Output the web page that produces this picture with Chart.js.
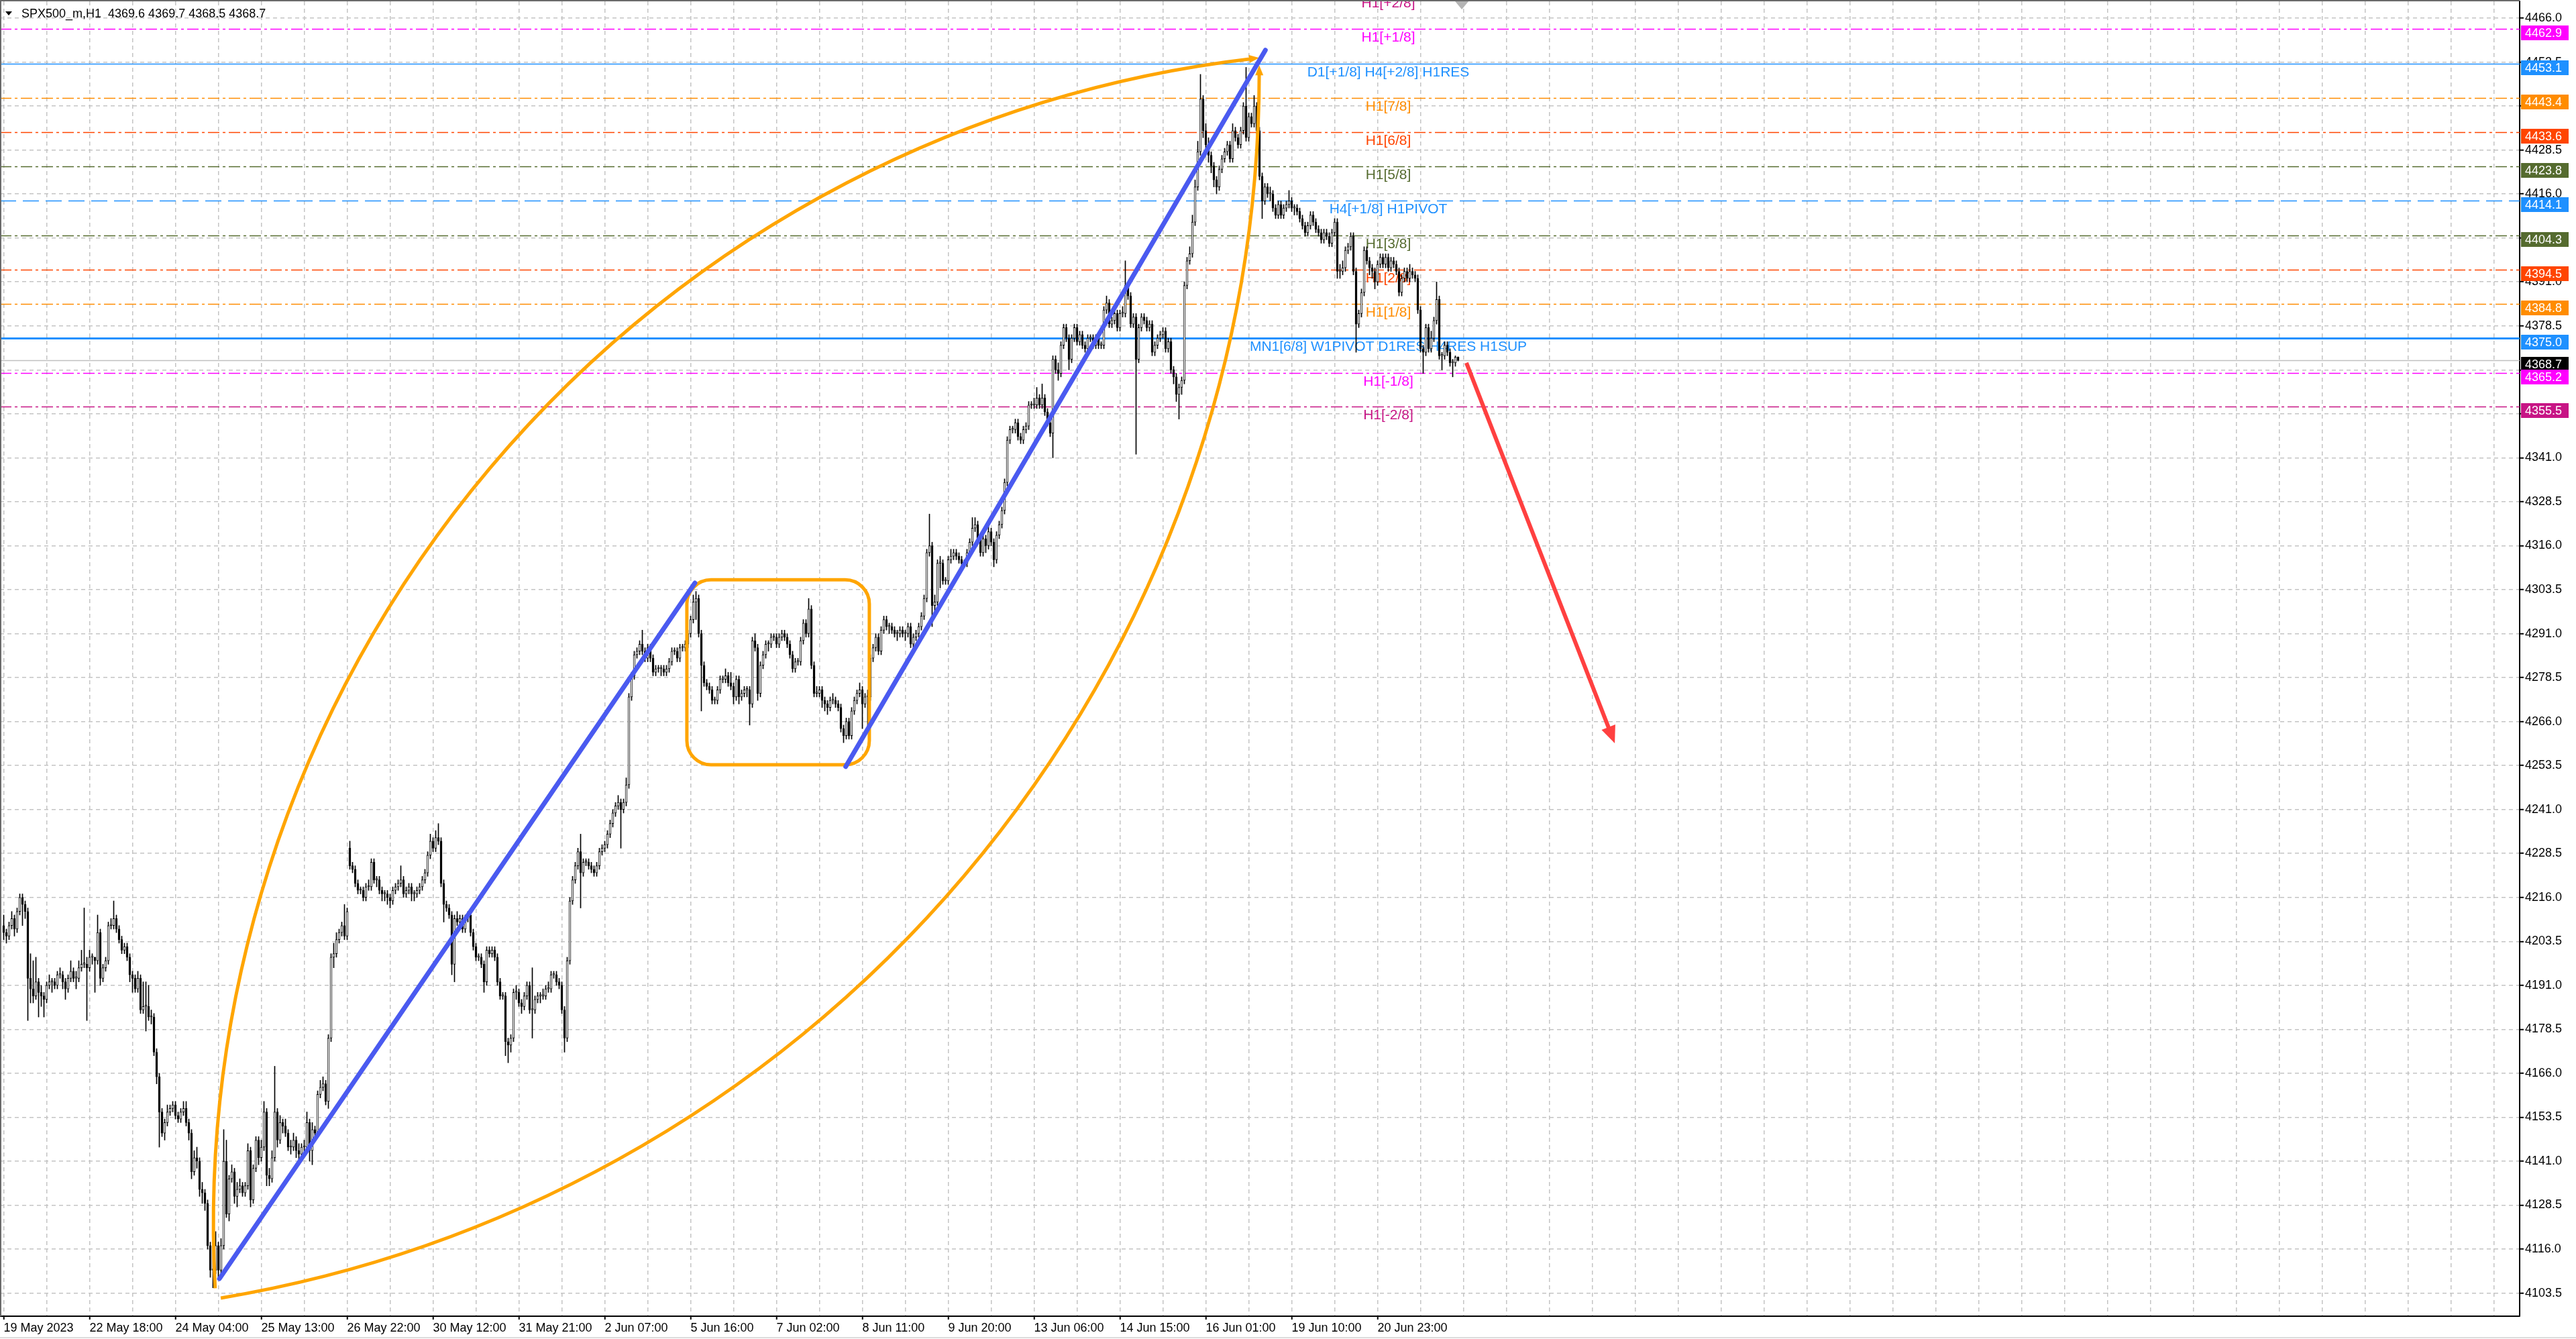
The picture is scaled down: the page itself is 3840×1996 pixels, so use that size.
<!DOCTYPE html>
<html>
<head>
<meta charset="utf-8">
<title>SPX500_m,H1</title>
<script src="https://cdn.jsdelivr.net/npm/chart.js@4.4.0/dist/chart.umd.min.js"></script>
<style>
  html, body { margin: 0; padding: 0; background: #fff; overflow: hidden; }
  canvas { display: block; }
</style>
</head>
<body>
<canvas id="chart" width="3840" height="1996"></canvas>
<script>
// ---- H1 candles, one entry per bar (bar 0 = 19 May 2023) ----
const opens = [
  4208,4206,4205,4208,4210,4207,4212,4216,4214,4212,
  4193,4190,4188,4192,4189,4188,4187,4191,4192,4192,
  4191,4194,4194,4192,4190,4193,4195,4193,4193,4196,
  4197,4197,4196,4199,4199,4198,4206,4193,4196,4198,
  4208,4208,4210,4207,4204,4201,4202,4199,4194,4193,
  4190,4193,4184,4185,4185,4182,4182,4172,4165,4155,
  4149,4152,4155,4156,4157,4154,4153,4155,4156,4152,
  4149,4138,4142,4141,4133,4132,4129,4117,4110,4110,
  4117,4110,4117,4141,4126,4136,4138,4131,4133,4134,
  4132,4134,4144,4130,4139,4147,4142,4145,4155,4137,
  4136,4142,4155,4147,4152,4151,4149,4145,4145,4147,
  4144,4143,4145,4145,4152,4144,4150,4149,4160,4162,
  4163,4158,4176,4199,4200,4204,4206,4208,4205,4230,
  4225,4224,4220,4218,4218,4216,4219,4219,4226,4221,
  4221,4218,4217,4217,4216,4215,4218,4219,4220,4221,
  4217,4218,4219,4217,4217,4218,4219,4221,4223,4228,
  4232,4230,4233,4232,4220,4214,4213,4211,4197,4210,
  4209,4210,4207,4210,4211,4206,4202,4199,4199,4197,
  4192,4201,4200,4201,4199,4192,4188,4188,4175,4174,
  4176,4189,4189,4186,4185,4188,4191,4184,4184,4187,
  4188,4188,4188,4190,4190,4194,4194,4192,4191,4184,
  4176,4198,4215,4221,4225,4229,4223,4226,4226,4225,
  4224,4223,4225,4229,4230,4231,4234,4237,4240,4242,
  4243,4241,4243,4248,4273,4279,4285,4286,4288,4286,
  4284,4287,4284,4280,4281,4281,4281,4280,4281,4283,
  4286,4286,4284,4287,4287,4288,4291,4295,4300,4301,
  4291,4282,4277,4276,4275,4272,4272,4275,4278,4278,
  4279,4277,4276,4273,4278,4273,4274,4275,4275,4271,
  4289,4287,4274,4282,4285,4288,4288,4290,4290,4288,
  4290,4291,4290,4288,4285,4281,4283,4283,4289,4294,
  4291,4298,4282,4274,4274,4275,4272,4271,4270,4272,
  4272,4271,4270,4264,4262,4266,4262,4269,4272,4274,
  4275,4271,4273,4273,4284,4287,4290,4286,4292,4295,
  4293,4293,4292,4291,4291,4292,4291,4291,4293,4288,
  4290,4291,4293,4296,4301,4314,4316,4299,4300,4311,
  4311,4306,4306,4312,4313,4314,4313,4312,4311,4311,
  4314,4317,4321,4322,4318,4314,4318,4316,4320,4317,
  4312,4319,4322,4326,4334,4346,4349,4349,4351,4347,
  4346,4349,4350,4356,4356,4356,4358,4356,4358,4354,
  4351,4348,4369,4366,4365,4373,4378,4375,4369,4375,
  4378,4374,4376,4373,4372,4375,4375,4373,4375,4373,
  4373,4383,4385,4379,4380,4382,4378,4382,4382,4390,
  4387,4379,4381,4369,4378,4381,4380,4378,4379,4371,
  4373,4375,4376,4377,4372,4374,4366,4364,4359,4361,
  4363,4390,4397,4399,4408,4418,4428,4443,4434,4430,
  4427,4424,4420,4418,4423,4426,4428,4430,4426,4434,
  4432,4430,4434,4441,4432,4438,4436,4441,4434,4421,
  4414,4418,4416,4416,4412,4410,4413,4410,4412,4413,
  4414,4412,4412,4411,4409,4407,4405,4407,4410,4408,
  4406,4405,4403,4405,4404,4402,4405,4408,4394,4394,
  4395,4400,4401,4404,4394,4379,4382,4388,4400,4397,
  4395,4394,4391,4396,4398,4396,4398,4395,4397,4396,
  4394,4388,4392,4394,4392,4394,4393,4392,4383,4372,
  4371,4378,4372,4375,4380,4386,4370,4370,4373,4371,
  4368,4368,4369.6
];
const highs = [
  4211,4207,4209,4212,4211,4213,4217,4217,4215,4213,
  4200,4198,4199,4193,4191,4189,4192,4194,4193,4193,
  4195,4196,4195,4193,4194,4198,4196,4195,4198,4201,
  4213,4199,4201,4200,4199,4211,4207,4197,4199,4209,
  4210,4215,4211,4208,4205,4203,4203,4200,4195,4194,
  4195,4194,4192,4192,4191,4184,4183,4173,4166,4156,
  4153,4157,4157,4158,4158,4155,4156,4158,4158,4153,
  4150,4144,4145,4142,4135,4133,4130,4118,4128,4121,
  4118,4119,4150,4147,4137,4140,4139,4135,4136,4135,
  4135,4146,4145,4140,4148,4148,4147,4158,4156,4139,
  4144,4168,4156,4154,4153,4153,4150,4147,4149,4148,
  4146,4146,4147,4155,4153,4152,4151,4161,4164,4165,
  4164,4177,4200,4203,4206,4207,4209,4214,4213,4232,
  4226,4225,4221,4219,4219,4220,4221,4227,4227,4222,
  4222,4219,4218,4218,4217,4219,4220,4221,4225,4222,
  4219,4220,4220,4218,4219,4220,4222,4224,4229,4234,
  4233,4235,4237,4233,4221,4215,4214,4212,4211,4212,
  4211,4211,4211,4212,4212,4207,4203,4200,4200,4198,
  4202,4202,4202,4202,4200,4193,4189,4189,4176,4177,
  4190,4191,4190,4187,4189,4192,4192,4196,4188,4189,
  4189,4190,4191,4192,4195,4195,4195,4193,4192,4185,
  4199,4216,4222,4226,4230,4234,4227,4227,4227,4226,
  4225,4226,4230,4231,4232,4235,4238,4241,4243,4245,
  4244,4244,4250,4274,4280,4286,4287,4289,4292,4287,
  4288,4288,4285,4282,4282,4282,4282,4282,4284,4287,
  4287,4287,4288,4288,4289,4292,4296,4302,4303,4302,
  4292,4283,4278,4277,4276,4273,4276,4279,4279,4281,
  4280,4280,4277,4279,4279,4275,4276,4276,4276,4290,
  4291,4288,4283,4286,4289,4289,4291,4291,4291,4291,
  4292,4292,4291,4289,4286,4284,4284,4290,4295,4295,
  4301,4299,4283,4276,4276,4276,4273,4272,4273,4274,
  4273,4272,4271,4265,4267,4267,4270,4273,4275,4277,
  4276,4274,4275,4285,4288,4291,4291,4293,4296,4296,
  4294,4294,4293,4292,4293,4293,4292,4294,4294,4291,
  4292,4294,4297,4302,4315,4325,4317,4302,4312,4313,
  4312,4307,4313,4315,4315,4315,4314,4313,4312,4315,
  4318,4324,4324,4323,4319,4319,4319,4322,4321,4318,
  4320,4323,4327,4335,4347,4350,4350,4352,4352,4348,
  4350,4351,4357,4357,4358,4361,4359,4362,4359,4355,
  4352,4370,4370,4368,4374,4379,4379,4376,4376,4379,
  4379,4377,4377,4374,4376,4376,4376,4376,4376,4374,
  4384,4387,4386,4381,4383,4383,4383,4384,4397,4391,
  4388,4382,4382,4379,4382,4382,4381,4380,4380,4374,
  4376,4377,4378,4378,4375,4375,4367,4365,4362,4364,
  4391,4398,4401,4410,4420,4431,4450,4444,4436,4432,
  4428,4425,4421,4424,4427,4429,4431,4431,4436,4435,
  4433,4435,4442,4452,4439,4439,4444,4442,4435,4422,
  4419,4419,4418,4417,4413,4414,4414,4413,4414,4417,
  4415,4413,4413,4412,4410,4408,4408,4411,4411,4409,
  4407,4406,4406,4406,4405,4406,4409,4409,4396,4397,
  4401,4402,4405,4405,4395,4383,4389,4401,4401,4398,
  4396,4395,4397,4399,4399,4399,4399,4398,4398,4397,
  4395,4393,4395,4395,4396,4395,4394,4393,4384,4373,
  4379,4379,4377,4381,4391,4387,4371,4374,4374,4372,
  4369,4370,4369.7
];
const lows = [
  4204,4203,4204,4207,4205,4206,4211,4208,4210,4181,
  4186,4186,4187,4182,4185,4182,4186,4190,4189,4190,
  4190,4193,4190,4187,4189,4192,4192,4190,4192,4195,
  4196,4181,4195,4197,4189,4197,4191,4192,4195,4197,
  4207,4207,4206,4203,4200,4200,4198,4192,4189,4189,
  4189,4183,4183,4178,4181,4180,4171,4163,4145,4148,
  4147,4151,4154,4155,4153,4152,4152,4154,4151,4147,
  4136,4137,4139,4131,4129,4127,4116,4108,4105,4109,
  4108,4109,4116,4125,4124,4135,4129,4128,4132,4131,
  4131,4133,4128,4129,4138,4140,4141,4144,4134,4134,
  4135,4141,4145,4146,4149,4148,4144,4143,4144,4142,
  4141,4142,4143,4144,4141,4140,4147,4148,4159,4161,
  4157,4156,4175,4196,4199,4203,4205,4204,4204,4224,
  4223,4219,4217,4217,4215,4215,4218,4218,4220,4219,
  4217,4215,4215,4214,4213,4214,4217,4218,4219,4216,
  4216,4217,4215,4215,4216,4217,4218,4220,4222,4227,
  4229,4229,4231,4219,4209,4212,4210,4194,4192,4208,
  4208,4206,4206,4209,4205,4201,4198,4198,4196,4189,
  4191,4199,4199,4198,4191,4187,4187,4171,4169,4172,
  4175,4187,4185,4183,4184,4187,4183,4176,4183,4186,
  4186,4187,4187,4189,4189,4193,4191,4190,4183,4172,
  4175,4197,4214,4220,4224,4213,4222,4225,4224,4223,
  4222,4222,4224,4228,4229,4230,4233,4236,4239,4241,
  4230,4240,4242,4247,4272,4278,4284,4285,4285,4283,
  4283,4283,4279,4279,4280,4279,4279,4279,4280,4282,
  4285,4283,4283,4286,4286,4287,4290,4294,4295,4290,
  4269,4276,4275,4274,4271,4271,4271,4274,4277,4277,
  4276,4275,4271,4272,4271,4272,4273,4273,4265,4270,
  4286,4272,4273,4281,4284,4286,4287,4289,4287,4287,
  4289,4289,4287,4284,4280,4280,4282,4282,4288,4290,
  4290,4281,4273,4273,4273,4270,4269,4268,4269,4271,
  4270,4269,4263,4260,4261,4261,4261,4268,4271,4273,
  4264,4270,4263,4272,4283,4286,4285,4285,4291,4292,
  4291,4291,4290,4289,4290,4290,4289,4290,4287,4287,
  4289,4290,4292,4295,4300,4313,4293,4296,4299,4304,
  4305,4305,4305,4311,4312,4312,4311,4310,4310,4310,
  4313,4316,4320,4317,4313,4313,4314,4315,4316,4310,
  4311,4318,4321,4325,4333,4345,4348,4348,4346,4345,
  4345,4348,4349,4355,4355,4355,4355,4355,4353,4350,
  4347,4341,4365,4363,4364,4372,4374,4366,4368,4374,
  4373,4373,4372,4371,4371,4374,4372,4372,4372,4372,
  4372,4382,4378,4378,4379,4377,4377,4381,4381,4386,
  4378,4378,4342,4368,4377,4379,4377,4377,4370,4370,
  4372,4374,4375,4371,4371,4365,4362,4357,4352,4359,
  4362,4389,4396,4398,4407,4417,4427,4432,4428,4425,
  4422,4418,4416,4417,4422,4425,4427,4425,4425,4431,
  4429,4429,4433,4431,4431,4435,4435,4433,4420,4409,
  4413,4415,4414,4411,4409,4409,4409,4409,4411,4412,
  4411,4410,4410,4408,4406,4404,4404,4406,4407,4405,
  4404,4402,4402,4403,4401,4401,4404,4392,4392,4393,
  4394,4399,4400,4393,4371,4378,4381,4387,4396,4393,
  4392,4389,4390,4395,4395,4395,4394,4394,4395,4393,
  4387,4387,4391,4391,4391,4392,4391,4382,4371,4365,
  4370,4371,4371,4374,4379,4369,4366,4369,4370,4367,
  4364,4367,4368.5
];
const closes = [
  4206,4205,4208,4210,4207,4212,4216,4214,4212,4193,
  4190,4188,4192,4189,4188,4187,4191,4192,4192,4191,
  4194,4194,4192,4190,4193,4195,4193,4193,4196,4197,
  4197,4196,4199,4199,4198,4206,4193,4196,4198,4208,
  4208,4210,4207,4204,4201,4202,4199,4194,4193,4190,
  4193,4184,4185,4185,4182,4182,4172,4165,4155,4149,
  4152,4155,4156,4157,4154,4153,4155,4156,4152,4149,
  4138,4142,4141,4133,4132,4129,4117,4110,4110,4117,
  4110,4117,4141,4126,4136,4138,4131,4133,4134,4132,
  4134,4144,4130,4139,4147,4142,4145,4155,4137,4136,
  4142,4155,4147,4152,4151,4149,4145,4145,4147,4144,
  4143,4145,4145,4152,4144,4150,4149,4160,4162,4163,
  4158,4176,4199,4200,4204,4206,4208,4205,4212,4225,
  4224,4220,4218,4218,4216,4219,4219,4226,4221,4221,
  4218,4217,4217,4216,4215,4218,4219,4220,4221,4217,
  4218,4219,4217,4217,4218,4219,4221,4223,4228,4232,
  4230,4233,4232,4220,4214,4213,4211,4197,4210,4209,
  4210,4207,4210,4211,4206,4202,4199,4199,4197,4192,
  4201,4200,4201,4199,4192,4188,4188,4175,4174,4176,
  4189,4189,4186,4185,4188,4191,4184,4184,4187,4188,
  4188,4188,4190,4190,4194,4194,4192,4191,4184,4176,
  4198,4215,4221,4225,4229,4223,4226,4226,4225,4224,
  4223,4225,4229,4230,4231,4234,4237,4240,4242,4243,
  4241,4243,4248,4273,4279,4285,4286,4288,4286,4284,
  4287,4284,4280,4281,4281,4281,4280,4281,4283,4286,
  4286,4284,4287,4287,4288,4291,4295,4300,4301,4291,
  4282,4277,4276,4275,4272,4272,4275,4278,4278,4279,
  4277,4276,4273,4278,4273,4274,4275,4275,4271,4289,
  4287,4274,4282,4285,4288,4288,4290,4290,4288,4290,
  4291,4290,4288,4285,4281,4283,4283,4289,4294,4291,
  4298,4282,4274,4274,4275,4272,4271,4270,4272,4272,
  4271,4270,4264,4262,4266,4262,4269,4272,4274,4275,
  4271,4273,4273,4284,4287,4290,4286,4292,4295,4293,
  4293,4292,4291,4291,4292,4291,4291,4293,4288,4290,
  4291,4293,4296,4301,4314,4316,4299,4300,4311,4311,
  4306,4306,4312,4313,4314,4313,4312,4311,4311,4314,
  4317,4321,4322,4318,4314,4318,4316,4320,4317,4312,
  4319,4322,4326,4334,4346,4349,4349,4351,4347,4346,
  4349,4350,4356,4356,4356,4358,4356,4358,4354,4351,
  4348,4369,4366,4365,4373,4378,4375,4369,4375,4378,
  4374,4376,4373,4372,4375,4375,4373,4375,4373,4373,
  4383,4385,4379,4380,4382,4378,4382,4382,4390,4387,
  4379,4381,4369,4378,4381,4380,4378,4379,4371,4373,
  4375,4376,4377,4372,4374,4366,4364,4359,4361,4363,
  4390,4397,4399,4408,4418,4428,4443,4434,4430,4427,
  4424,4420,4418,4423,4426,4428,4430,4426,4434,4432,
  4430,4434,4441,4432,4438,4436,4441,4434,4421,4414,
  4418,4416,4416,4412,4410,4413,4410,4412,4413,4414,
  4412,4412,4411,4409,4407,4405,4407,4410,4408,4406,
  4405,4403,4405,4404,4402,4405,4408,4394,4394,4395,
  4400,4401,4404,4394,4379,4382,4388,4400,4397,4395,
  4394,4391,4396,4398,4396,4398,4395,4397,4396,4394,
  4388,4392,4394,4392,4394,4393,4392,4383,4372,4371,
  4378,4372,4375,4380,4386,4370,4370,4373,4371,4368,
  4368,4369.6,4368.7
];

// ---- axis labels ----
const tickBars = [0, 32, 64, 96, 128, 160, 192, 224, 256, 288, 320, 352, 384, 416, 448, 480, 512];
const tickLabels = ['19 May 2023', '22 May 18:00', '24 May 04:00', '25 May 13:00', '26 May 22:00',
  '30 May 12:00', '31 May 21:00', '2 Jun 07:00', '5 Jun 16:00', '7 Jun 02:00', '8 Jun 11:00',
  '9 Jun 20:00', '13 Jun 06:00', '14 Jun 15:00', '16 Jun 01:00', '19 Jun 10:00', '20 Jun 23:00'];
const priceTicks = [4103.5, 4116.0, 4128.5, 4141.0, 4153.5, 4166.0, 4178.5, 4191.0, 4203.5, 4216.0,
  4228.5, 4241.0, 4253.5, 4266.0, 4278.5, 4291.0, 4303.5, 4316.0, 4328.5, 4341.0,
  4353.5, 4366.0, 4378.5, 4391.0, 4403.5, 4416.0, 4428.5, 4441.0, 4453.5, 4466.0];

// ---- Murrey levels ----
const levelPrices = [4472.6, 4462.9, 4453.1, 4443.4, 4433.6, 4423.8, 4414.1, 4404.3, 4394.5, 4384.8, 4375.0, 4365.2, 4355.5];
const levelNames = ['H1[+2/8]', 'H1[+1/8]', 'D1[+1/8] H4[+2/8] H1RES', 'H1[7/8]', 'H1[6/8]', 'H1[5/8]',
  'H4[+1/8] H1PIVOT', 'H1[3/8]', 'H1[2/8]', 'H1[1/8]', 'MN1[6/8] W1PIVOT D1RES H4RES H1SUP', 'H1[-1/8]', 'H1[-2/8]'];
const levelColors = ['#C71585', '#FF00FF', '#1E90FF', '#FF8C00', '#FF4500', '#556B2F',
  '#1E90FF', '#556B2F', '#FF4500', '#FF8C00', '#1E90FF', '#FF00FF', '#C71585'];
const levelStyles = ['dashdot', 'dashdot', 'solid', 'dashdot', 'dashdot', 'dashdot',
  'dash', 'dashdot', 'dashdot', 'dashdot', 'bold', 'dashdot', 'dashdot'];

// price tags on the right scale
const badgePrices = [4462.9, 4453.1, 4443.4, 4433.6, 4423.8, 4414.1, 4404.3, 4394.5, 4384.8, 4375.0, 4368.7, 4365.2, 4355.5];
const badgeColors = ['#FF00FF', '#1E90FF', '#FF8C00', '#FF4500', '#556B2F', '#1E90FF', '#556B2F',
  '#FF4500', '#FF8C00', '#1E90FF', '#000000', '#FF00FF', '#C71585'];

const lastPrice = 4368.7;
const titleText = 'SPX500_m,H1  4369.6 4369.7 4368.5 4368.7';

// hand drawn objects, anchored to (bar, price)
const trendLines = [
  [[80.4, 4107.6], [257.6, 4305.4]],
  [[313.8, 4253.2], [470.2, 4456.9]]
];
const arcs = [
  { from: [78.8, 4104.9], to: [467.9, 4454.7], bulge: 0.199, side: 1 },
  { from: [80.9, 4102.1], to: [467.9, 4452.6], bulge: 0.184, side: -1 }
];
const box = { x0: 254.6, x1: 322.6, top: 4306.3, bottom: 4253.7 };
const forecast = [[545.1, 4368.0], [600.4, 4259.8]];
const levelLabelBar = 516;
const shiftBar = 543.4;

// visible window
const xMin = -1.375, xMax = 937.625;
const yMin = 4096.94, yMax = 4470.77;

const FONT = '"Liberation Sans", Arial, sans-serif';

function dashFor(style) {
  if (style === 'dashdot') return [17, 5, 4, 5];
  if (style === 'dash') return [24, 10];
  return [];
}

function arrowHead(ctx, x, y, tx, ty, len, half) {
  const bx = x - tx * len, by = y - ty * len;
  ctx.beginPath();
  ctx.moveTo(x, y);
  ctx.lineTo(bx - ty * half, by + tx * half);
  ctx.lineTo(bx + ty * half, by - tx * half);
  ctx.closePath();
  ctx.fill();
}

// circular arc from A to B bulging sideways, arrow at B
function drawArc(ctx, A, B, bulge, side) {
  const dx = B[0] - A[0], dy = B[1] - A[1];
  const len = Math.hypot(dx, dy);
  const nx = side * dy / len, ny = -side * dx / len;
  const s = bulge * len, h = len / 2;
  const r = (s * s + h * h) / (2 * s);
  const cx = (A[0] + B[0]) / 2 - nx * (r - s);
  const cy = (A[1] + B[1]) / 2 - ny * (r - s);
  const a0 = Math.atan2(A[1] - cy, A[0] - cx);
  let da = Math.atan2(B[1] - cy, B[0] - cx) - a0;
  if (da > Math.PI) da -= 2 * Math.PI;
  if (da < -Math.PI) da += 2 * Math.PI;
  const dir = Math.sign(da);
  const head = 15;
  ctx.beginPath();
  ctx.arc(cx, cy, r, a0, a0 + da - dir * (head * 0.7) / r, da < 0);
  ctx.stroke();
  const end = a0 + da;
  arrowHead(ctx, B[0], B[1], -Math.sin(end) * dir, Math.cos(end) * dir, head, 6);
}

function roundedRect(ctx, x0, y0, x1, y1, r) {
  ctx.beginPath();
  ctx.moveTo(x0 + r, y0);
  ctx.arcTo(x1, y0, x1, y1, r);
  ctx.arcTo(x1, y1, x0, y1, r);
  ctx.arcTo(x0, y1, x0, y0, r);
  ctx.arcTo(x0, y0, x1, y0, r);
  ctx.closePath();
}

const background = {
  id: 'background',
  beforeDraw(chart) {
    const { ctx, width, height } = chart;
    ctx.save();
    ctx.fillStyle = '#ffffff';
    ctx.fillRect(0, 0, width, height);
    ctx.restore();
  }
};

// level lines and their captions sit behind the candles
const levels = {
  id: 'levels',
  beforeDatasetsDraw(chart) {
    const { ctx, chartArea: a, scales: { x, y } } = chart;
    ctx.save();
    ctx.beginPath();
    ctx.rect(a.left, 0, a.right - a.left, a.bottom);
    ctx.clip();

    // last price line
    const lp = Math.round(y.getPixelForValue(lastPrice)) + 0.5;
    ctx.strokeStyle = '#c0c0c0';
    ctx.lineWidth = 1.5;
    ctx.beginPath();
    ctx.moveTo(a.left, lp);
    ctx.lineTo(a.right, lp);
    ctx.stroke();

    levelPrices.forEach((p, i) => {
      const py = Math.round(y.getPixelForValue(p)) + 0.5;
      ctx.strokeStyle = levelColors[i];
      ctx.lineWidth = levelStyles[i] === 'bold' ? 3 : 1.5;
      ctx.setLineDash(dashFor(levelStyles[i]));
      ctx.beginPath();
      ctx.moveTo(a.left, py);
      ctx.lineTo(a.right, py);
      ctx.stroke();
    });
    ctx.setLineDash([]);

    ctx.font = '21px ' + FONT;
    ctx.textAlign = 'center';
    ctx.textBaseline = 'alphabetic';
    const lx = x.getPixelForValue(levelLabelBar);
    levelPrices.forEach((p, i) => {
      ctx.fillStyle = levelColors[i];
      ctx.fillText(levelNames[i], lx, y.getPixelForValue(p) + 19);
    });
    ctx.restore();
  }
};

// trend lines, arcs, box and forecast arrow on top of the candles
const drawings = {
  id: 'drawings',
  afterDatasetsDraw(chart) {
    const { ctx, chartArea: a, scales: { x, y } } = chart;
    const pt = (p) => [x.getPixelForValue(p[0]), y.getPixelForValue(p[1])];
    ctx.save();
    ctx.beginPath();
    ctx.rect(a.left, a.top, a.right - a.left, a.bottom - a.top);
    ctx.clip();

    ctx.strokeStyle = '#FFA500';
    ctx.fillStyle = '#FFA500';
    ctx.lineWidth = 5;
    arcs.forEach(arc => drawArc(ctx, pt(arc.from), pt(arc.to), arc.bulge, arc.side));

    roundedRect(ctx, x.getPixelForValue(box.x0), y.getPixelForValue(box.top),
      x.getPixelForValue(box.x1), y.getPixelForValue(box.bottom), 36);
    ctx.stroke();

    ctx.strokeStyle = '#4A5AF0';
    ctx.lineWidth = 7;
    ctx.lineCap = 'round';
    trendLines.forEach(([p, q]) => {
      const A = pt(p), B = pt(q);
      ctx.beginPath();
      ctx.moveTo(A[0], A[1]);
      ctx.lineTo(B[0], B[1]);
      ctx.stroke();
    });

    // red forecast arrow
    const S = pt(forecast[0]), T = pt(forecast[1]);
    const len = Math.hypot(T[0] - S[0], T[1] - S[1]);
    const tx = (T[0] - S[0]) / len, ty = (T[1] - S[1]) / len;
    ctx.strokeStyle = '#FF4040';
    ctx.fillStyle = '#FF4040';
    ctx.lineWidth = 6;
    ctx.lineCap = 'butt';
    ctx.beginPath();
    ctx.moveTo(S[0], S[1]);
    ctx.lineTo(T[0] - tx * 18, T[1] - ty * 18);
    ctx.stroke();
    arrowHead(ctx, T[0], T[1], tx, ty, 26, 11);
    ctx.restore();
  }
};

// price tags, title and frame
const overlay = {
  id: 'overlay',
  afterDraw(chart) {
    const { ctx, chartArea: a, scales: { x, y } } = chart;
    ctx.save();
    ctx.font = '18px ' + FONT;
    ctx.textBaseline = 'middle';
    ctx.textAlign = 'left';
    // MT4 draws the tag slightly below its price line
    badgePrices.forEach((p, i) => {
      const py = Math.round(y.getPixelForValue(p));
      ctx.fillStyle = badgeColors[i];
      ctx.fillRect(a.right + 2, py - 5, 71, 22);
      ctx.fillStyle = '#ffffff';
      ctx.fillText(p.toFixed(1), a.right + 8, py + 7);
    });

    // frame
    ctx.fillStyle = '#6a6a6a';
    ctx.fillRect(0, 0, a.right, 2);
    ctx.fillRect(0, 0, 2, a.bottom);
    ctx.fillStyle = '#dcdcdc';
    ctx.fillRect(0, chart.height - 3, chart.width, 2);

    // chart shift marker
    const sx = x.getPixelForValue(shiftBar);
    ctx.fillStyle = '#b4b4b4';
    ctx.beginPath();
    ctx.moveTo(sx - 10, 2);
    ctx.lineTo(sx + 10, 2);
    ctx.lineTo(sx, 14);
    ctx.closePath();
    ctx.fill();

    // title
    ctx.fillStyle = '#000000';
    ctx.beginPath();
    ctx.moveTo(8, 17);
    ctx.lineTo(18, 17);
    ctx.lineTo(13, 23);
    ctx.closePath();
    ctx.fill();
    ctx.textBaseline = 'alphabetic';
    ctx.font = '18px ' + FONT;
    ctx.fillText(titleText, 32, 26);
    ctx.restore();
  }
};

const bodyData = closes.map((c, i) => ({ x: i, y: [opens[i], c] }));
const wickData = closes.map((c, i) => ({ x: i, y: [lows[i], highs[i]] }));

const chart = new Chart(document.getElementById('chart'), {
  type: 'bar',
  data: {
    datasets: [
      {
        label: 'body',
        data: bodyData,
        grouped: false,
        barThickness: 3,
        minBarLength: 2,
        borderWidth: 1,
        borderSkipped: false,
        borderColor: '#000000',
        backgroundColor: (c) => closes[c.dataIndex] >= opens[c.dataIndex] ? '#ffffff' : '#000000'
      },
      {
        label: 'wick',
        data: wickData,
        grouped: false,
        barThickness: 1,
        borderWidth: 0,
        backgroundColor: '#000000'
      }
    ]
  },
  options: {
    responsive: false,
    animation: false,
    devicePixelRatio: 1,
    layout: { padding: { top: 2, left: 0, right: 0, bottom: 0 } },
    plugins: {
      legend: { display: false },
      tooltip: { enabled: false }
    },
    scales: {
      x: {
        type: 'linear',
        min: xMin,
        max: xMax,
        offset: false,
        afterFit(scale) {
          scale.height = 34;
          scale.paddingLeft = 0;
          scale.paddingRight = 0;
        },
        afterBuildTicks(scale) {
          const t = [];
          for (let b = 0; b <= xMax; b += 16) t.push({ value: b });
          scale.ticks = t;
        },
        ticks: {
          autoSkip: false,
          maxRotation: 0,
          minRotation: 0,
          align: 'start',
          padding: 2,
          color: '#000000',
          font: { family: FONT, size: 18 },
          callback: (v) => {
            const k = tickBars.indexOf(v);
            return k >= 0 ? tickLabels[k] : '';
          }
        },
        grid: {
          offset: false,
          color: '#c4c4c4',
          lineWidth: 1.5,
          tickLength: 5,
          tickWidth: 2,
          tickColor: (c) => (c.tick && tickBars.includes(c.tick.value)) ? '#000000' : 'rgba(0,0,0,0)'
        },
        border: { display: true, color: '#000000', width: 2, dash: [6, 5] }
      },
      y: {
        type: 'linear',
        position: 'right',
        min: yMin,
        max: yMax,
        afterFit(scale) {
          scale.width = 84;
          scale.paddingTop = 0;
          scale.paddingBottom = 0;
        },
        afterBuildTicks(scale) {
          scale.ticks = priceTicks.map(v => ({ value: v }));
        },
        ticks: {
          autoSkip: false,
          padding: 2,
          color: '#000000',
          font: { family: FONT, size: 18 },
          callback: (v) => v.toFixed(1)
        },
        grid: {
          color: '#c4c4c4',
          lineWidth: 1.5,
          tickLength: 6,
          tickWidth: 2,
          tickColor: '#000000'
        },
        border: { display: true, color: '#000000', width: 2, dash: [6, 5] }
      }
    }
  },
  plugins: [background, levels, drawings, overlay]
});
</script>
</body>
</html>
